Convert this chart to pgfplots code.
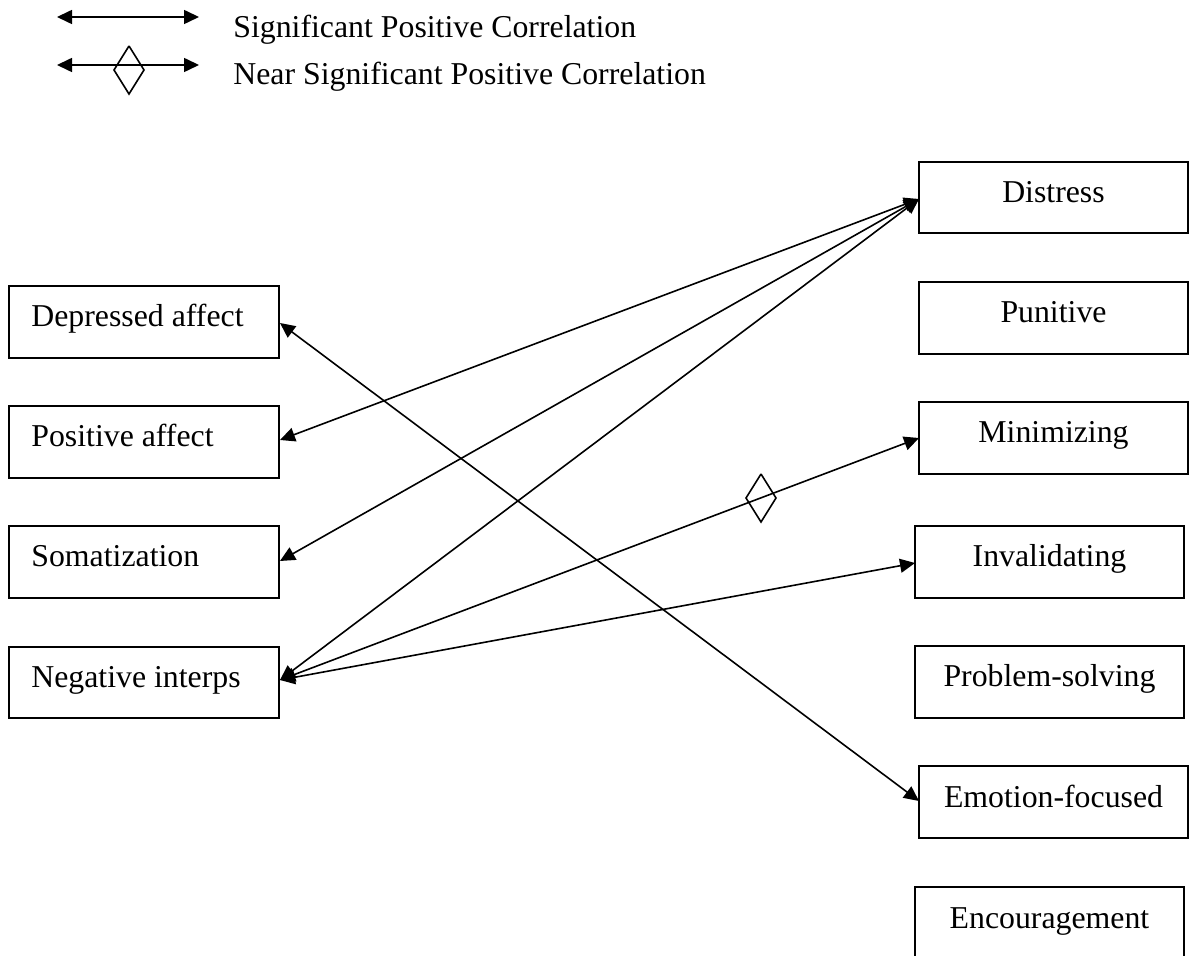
\documentclass[border=0pt]{standalone}
\usepackage{pgfplots}
\pgfplotsset{compat=1.18}
\usetikzlibrary{arrows.meta}
\usepackage{fontspec}
\setmainfont{Liberation Serif}
\begin{document}
\fontsize{15.9}{19}\selectfont
\begin{tikzpicture}
\begin{axis}[width=594.5pt,height=478pt,scale only axis,
  xmin=0,xmax=1189,ymin=0,ymax=956,y dir=reverse,hide axis,clip=true]
\tikzset{bx/.style={draw=black,line width=0.8pt},
  tl/.style={anchor=base,inner sep=0pt,font=\fontsize{15.9}{19}\selectfont},
  ll/.style={anchor=base west,inner sep=0pt,font=\fontsize{15.9}{19}\selectfont}}
\pgfplotsset{arr/.style={black,line width=0.8pt,
  {Triangle[length=7.5pt,width=7pt]}-{Triangle[length=7.5pt,width=7pt]}},
  dia/.style={black,line width=0.8pt}}
% legend
\addplot[arr] coordinates {(57,17) (199,17)};
\addplot[arr] coordinates {(57,65) (199,65)};
\addplot[dia] coordinates {(129,46) (144,70) (129,94) (114,70) (129,46)};
\node[ll] at (axis cs:233,38) {Significant Positive Correlation};
\node[ll] at (axis cs:233,85) {Near Significant Positive Correlation};
% left boxes
\draw[bx] (axis cs:9,286) rectangle (axis cs:279,358);
\node[ll] at (axis cs:31,327) {Depressed affect};
\draw[bx] (axis cs:9,406) rectangle (axis cs:279,478);
\node[ll] at (axis cs:31,447) {Positive affect};
\draw[bx] (axis cs:9,526) rectangle (axis cs:279,598);
\node[ll] at (axis cs:31,567) {Somatization};
\draw[bx] (axis cs:9,647) rectangle (axis cs:279,718);
\node[ll] at (axis cs:31,688) {Negative interps};
% right boxes
\draw[bx] (axis cs:919,162) rectangle (axis cs:1188,233);
\node[tl] at (axis cs:1053.5,203) {Distress};
\draw[bx] (axis cs:919,282) rectangle (axis cs:1188,354);
\node[tl] at (axis cs:1053.5,323) {Punitive};
\draw[bx] (axis cs:919,402) rectangle (axis cs:1188,474);
\node[tl] at (axis cs:1053.5,443) {Minimizing};
\draw[bx] (axis cs:915,526) rectangle (axis cs:1184,598);
\node[tl] at (axis cs:1049.5,567) {Invalidating};
\draw[bx] (axis cs:915,646) rectangle (axis cs:1184,718);
\node[tl] at (axis cs:1049.5,687) {Problem-solving};
\draw[bx] (axis cs:919,766) rectangle (axis cs:1188,838);
\node[tl] at (axis cs:1053.5,807) {Emotion-focused};
\draw[bx] (axis cs:915,962) -- (axis cs:915,887) -- (axis cs:1184,887) -- (axis cs:1184,962);
\node[tl] at (axis cs:1049.5,928) {Encouragement};
% correlations
\addplot[arr] coordinates {(280,440) (919,199)};
\addplot[arr] coordinates {(280,561) (919,199)};
\addplot[arr] coordinates {(280,680) (919,199)};
\addplot[arr] coordinates {(280,323) (919,801)};
\addplot[arr] coordinates {(280,680) (919,438)};
\addplot[arr] coordinates {(280,680) (915,563)};
\addplot[dia] coordinates {(761,474) (776,498) (761,522) (746,498) (761,474)};
\end{axis}
\pgfresetboundingbox
\path (current axis.south west) rectangle (current axis.north east);
\end{tikzpicture}
\end{document}
